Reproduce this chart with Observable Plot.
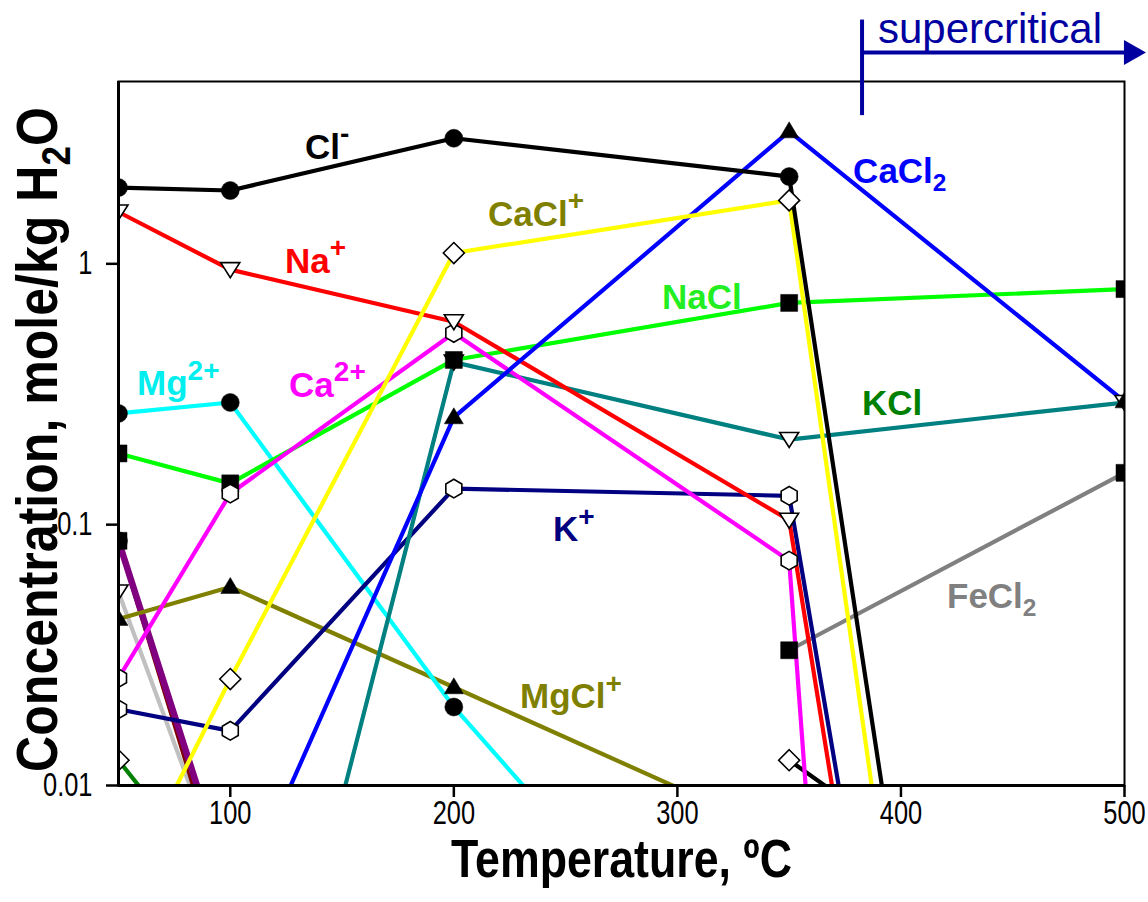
<!DOCTYPE html>
<html>
<head>
<meta charset="utf-8">
<script src="https://cdn.jsdelivr.net/npm/d3@7"></script>
<script src="https://cdn.jsdelivr.net/npm/@observablehq/plot@0.6"></script>
<style>
  html, body { margin: 0; padding: 0; background: #ffffff; }
</style>
</head>
<body>
<div id="chart"></div>
<script>
// ---------------- data ----------------
const temps = [50, 100, 200, 350, 400, 500];          // °C
// concentrations, mole/kg H2O (null = no value at that temperature)
const chloride  = [1.96, 1.91, 3.03, 2.16, 0.0033, null];
const sodium    = [1.58, 0.95, 0.60, 0.104, 0.00023, null];
const caclIon   = [0.0036, 0.0256, 1.10, 1.75, 0.0016, null];
const cacl2     = [null, 0.003, 0.258, 3.22, null, 0.297];
const nacl      = [0.1875, 0.144, 0.428, 0.708, null, 0.80];
const kcl       = [null, 0.00019, 0.42, 0.212, null, 0.294];
const potassium = [0.0196, 0.0162, 0.1375, 0.129, 0.0004, null];
const calcium   = [0.0258, 0.1316, 0.543, 0.0728, 1e-7, null];
const magnesium = [0.267, 0.294, 0.020, 0.0007, null, null];
const mgclIon   = [0.0435, 0.0577, 0.0238, 0.0063, null, null];
const fecl2     = [null, null, null, 0.033, null, 0.158];
const minorGray   = [0.0552, 0.0038, null, null, null, null];
const minorMaroon = [0.0867, 0.0034, null, null, null, null];
const minorPurple = [0.0867, 0.0040, null, null, null, null];
const minorGreen  = [0.0125, 0.0036, null, null, null, null];
const minorBlack  = [null, null, null, 0.0125, 0.0062, null];

const xTicks = [100, 200, 300, 400, 500];
const yTicks = [0.01, 0.1, 1];

// species labels: text, temperature, concentration
const labelText = ["Cl^-", "Na^+", "CaCl^+", "CaCl_2", "NaCl", "KCl", "Mg^2+", "Ca^2+", "K^+", "FeCl_2", "MgCl^+"];
const labelT    = [133.4, 124.5, 215.3, 378.6, 293.1, 382.6, 58.3, 126.3, 244.4, 420.6, 229.6];
const labelC    = [2.79, 1.02, 1.54, 2.25, 0.74, 0.29, 0.346, 0.34, 0.0953, 0.0527, 0.0218];

const xTitle = "Temperature, ºC";
const yTitle = "Concentration, mole/kg H_2O";

// supercritical annotation (critical temperature marker)
const criticalT = 382.6;
const arrowEndT = 509.6;
const arrowC = 6.46;
const criticalSpan = [3.7, 8.6];
const superText = "supercritical";
const superTextT = 389.7;
const superTextC = 7.9;

// ---------------- styles ----------------
const seriesList = [
  {name: "fecl2", values: fecl2},
  {name: "minorGray", values: minorGray},
  {name: "minorMaroon", values: minorMaroon},
  {name: "minorPurple", values: minorPurple},
  {name: "minorGreen", values: minorGreen},
  {name: "minorBlack", values: minorBlack},
  {name: "mgclIon", values: mgclIon},
  {name: "magnesium", values: magnesium},
  {name: "potassium", values: potassium},
  {name: "kcl", values: kcl},
  {name: "nacl", values: nacl},
  {name: "calcium", values: calcium},
  {name: "sodium", values: sodium},
  {name: "cacl2", values: cacl2},
  {name: "caclIon", values: caclIon},
  {name: "chloride", values: chloride}
];
const style = {
  chloride:   {stroke: "#000000", marker: "circle"},
  sodium:     {stroke: "#ff0000", marker: "triDown"},
  caclIon:    {stroke: "#ffff00", marker: "diamond"},
  cacl2:      {stroke: "#0000ff", marker: "triUp"},
  nacl:       {stroke: "#00ff00", marker: "square"},
  kcl:        {stroke: "#008080", marker: "triDown"},
  potassium:  {stroke: "#000080", marker: "hexagon"},
  calcium:    {stroke: "#ff00ff", marker: "hexagon"},
  magnesium:  {stroke: "#00ffff", marker: "circle"},
  mgclIon:    {stroke: "#808000", marker: "triUp"},
  fecl2:      {stroke: "#808080", marker: "square"},
  minorGray:  {stroke: "#c0c0c0", marker: "triDown"},
  minorMaroon:{stroke: "#800000", marker: "circle"},
  minorPurple:{stroke: "#800080", marker: "square", width: 6.5},
  minorGreen: {stroke: "#008000", marker: "diamond"},
  minorBlack: {stroke: "#000000", marker: "diamond"}
};
const labelColor = ["#000000", "#ff0000", "#808000", "#0000ff", "#22ee22", "#008000", "#00eeee", "#ff00ff", "#000080", "#808080", "#808000"];

// marker shapes (fixed pixel geometry)
const symbols = {
  circle: {draw(c) { c.moveTo(9, 0); c.arc(0, 0, 9, 0, 2 * Math.PI); c.closePath(); }},
  square: {draw(c) { c.rect(-8.5, -8.5, 17, 17); }},
  triUp: {draw(c) { c.moveTo(0, -9.5); c.lineTo(9.5, 6.5); c.lineTo(-9.5, 6.5); c.closePath(); }},
  triDown: {draw(c) { c.moveTo(-9.5, -7); c.lineTo(9.5, -7); c.lineTo(0, 8); c.closePath(); }},
  diamond: {draw(c) { c.moveTo(0, -10.5); c.lineTo(10.5, 0); c.lineTo(0, 10.5); c.lineTo(-10.5, 0); c.closePath(); }},
  hexagon: {draw(c) { const rx = 8, ry = 9.3; c.moveTo(0, -ry); c.lineTo(rx, -ry / 2); c.lineTo(rx, ry / 2); c.lineTo(0, ry); c.lineTo(-rx, ry / 2); c.lineTo(-rx, -ry / 2); c.closePath(); }}
};
const filled = {circle: true, square: true, triUp: true, triDown: false, diamond: false, hexagon: false};

// ---------------- build ----------------
const rows = [];
for (const s of seriesList) {
  s.values.forEach((v, i) => { if (v != null) rows.push({series: s.name, T: temps[i], C: v}); });
}

const sans = "Liberation Sans, Arial, sans-serif";
const marks = [];
marks.push(Plot.frame({stroke: "#000", strokeWidth: 2}));
for (const s of seriesList) {
  const st = style[s.name];
  marks.push(Plot.line(rows.filter(r => r.series === s.name), {
    x: "T", y: "C", stroke: st.stroke, strokeWidth: st.width || 4.2,
    strokeLinejoin: "round", clip: true
  }));
}
for (const s of seriesList) {
  const st = style[s.name];
  const f = filled[st.marker];
  marks.push(Plot.dot(rows.filter(r => r.series === s.name), {
    x: "T", y: "C", symbol: symbols[st.marker], r: 9,
    fill: f ? "#000" : "#fff", stroke: "#000", strokeWidth: f ? 0.5 : 1.6, clip: true
  }));
}
marks.push(Plot.ruleX([50], {stroke: "#000", strokeWidth: 3}));
marks.push(Plot.ruleY([0.01], {stroke: "#000", strokeWidth: 3}));
marks.push(Plot.axisX({ticks: xTicks, tickSize: 12, tickPadding: 3, fontSize: 33, strokeWidth: 2.5, label: null, tickFormat: d => String(d)}));
marks.push(Plot.axisY({ticks: yTicks, tickSize: 12, tickPadding: 14, fontSize: 33, strokeWidth: 2.5, label: null, tickFormat: d => String(d)}));

labelText.forEach((t, i) => {
  marks.push(Plot.text([t], {
    x: () => labelT[i], y: () => labelC[i], text: d => d,
    fill: labelColor[i], fontSize: 35, fontWeight: "bold", fontFamily: sans,
    textAnchor: "start", lineAnchor: "middle"
  }));
});

// axis titles
marks.push(Plot.text([xTitle], {
  frameAnchor: "bottom", dy: 74, textAnchor: "middle", lineAnchor: "middle", fontSize: 54, fontWeight: "bold",
  fontFamily: sans
}));
marks.push(Plot.text([yTitle], {
  frameAnchor: "left", dx: -80, dy: 6, rotate: -90, textAnchor: "middle", lineAnchor: "middle", fontSize: 58, fontWeight: "bold",
  fontFamily: sans
}));

// supercritical annotation
const navy = "#0000a0";
marks.push(Plot.ruleX([criticalT], {y1: criticalSpan[0], y2: criticalSpan[1], stroke: navy, strokeWidth: 4}));
marks.push(Plot.ruleY([arrowC], {x1: criticalT, x2: arrowEndT - 8, stroke: navy, strokeWidth: 4}));
marks.push(Plot.dot([arrowEndT], {x: d => d, y: () => arrowC, r: 10,
  symbol: {draw(c) { c.moveTo(0, 0); c.lineTo(-22, -12.5); c.lineTo(-22, 12.5); c.closePath(); }},
  fill: navy, stroke: "none"}));
marks.push(Plot.text([superText], {x: () => superTextT, y: () => superTextC, text: d => d,
  textAnchor: "start", lineAnchor: "middle", fill: navy, fontSize: 42, fontFamily: sans}));

const chart = Plot.plot({
  width: 1148,
  height: 902,
  marginLeft: 118,
  marginRight: 24,
  marginTop: 81,
  marginBottom: 117,
  style: {fontFamily: sans, background: "#fff", overflow: "visible"},
  x: {domain: [50, 500]},
  y: {type: "log", domain: [0.01, 5.0]},
  marks
});
document.getElementById("chart").appendChild(chart);

// ---------- text post-processing (super/subscripts, condensed axis fonts) ----------
const tickStrings = new Set([...xTicks, ...yTicks].map(String));
const SVGNS = "http://www.w3.org/2000/svg";
function condense(el, factor, target) {
  const L = el.getComputedTextLength();
  const k = target != null ? target / L : factor;
  const x0 = parseFloat(el.getAttribute("x")) || 0;
  const tr = el.getAttribute("transform") || "";
  el.setAttribute("transform", `${tr} translate(${x0},0) scale(${k},1) translate(${-x0},0)`.trim());
}
chart.querySelectorAll("text").forEach(el => {
  const raw = el.textContent;
  if (/[\^_]/.test(raw)) {
    const fs = parseFloat(getComputedStyle(el).fontSize) || 33;
    const parts = raw.split(/(\^[0-9+\-]+|_[0-9]+)/).filter(p => p !== "");
    while (el.firstChild) el.removeChild(el.firstChild);
    let shift = 0;
    for (const p of parts) {
      const ts = document.createElementNS(SVGNS, "tspan");
      let target = 0, txt = p, size = null;
      if (p[0] === "^") { target = -0.45 * fs; txt = p.slice(1); size = 0.8 * fs; }
      else if (p[0] === "_") { target = 0.22 * fs; txt = p.slice(1); size = 0.7 * fs; }
      if (target - shift !== 0) ts.setAttribute("dy", target - shift);
      shift = target;
      if (size) ts.setAttribute("font-size", size);
      ts.textContent = txt;
      el.appendChild(ts);
    }
  }
});
chart.querySelectorAll("text").forEach(el => {
  const raw = el.textContent;
  if (tickStrings.has(raw)) condense(el, 0.77);
  else if (raw === xTitle) condense(el, null, 341);
  else if (raw === yTitle.replace("_", "")) condense(el, null, 665);
});
</script>
</body>
</html>
